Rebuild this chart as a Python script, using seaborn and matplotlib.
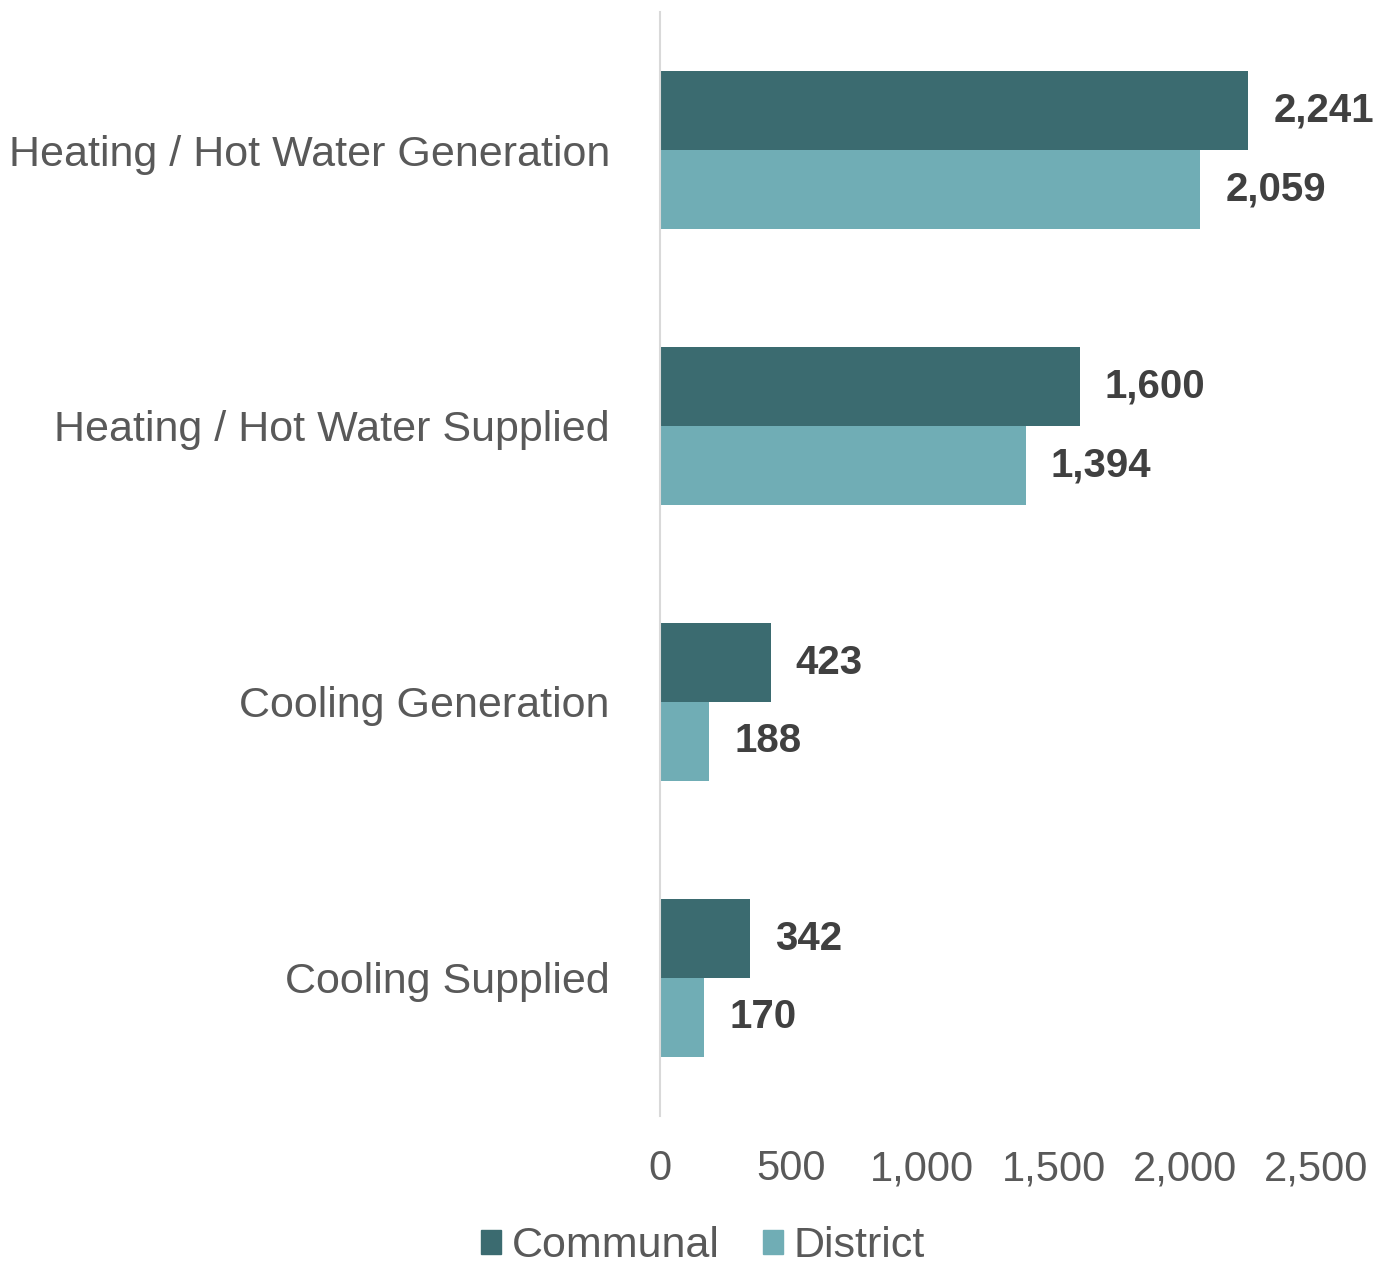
import pandas as pd
import matplotlib.pyplot as plt
import seaborn as sns
from matplotlib.patches import Patch

# datos
categorias = ['Heating / Hot Water Generation', 'Heating / Hot Water Supplied',
              'Cooling Generation', 'Cooling Supplied']
communal = [2241, 1600, 423, 342]
district = [2059, 1394, 188, 170]
series = ['Communal', 'District']
colores = ['#3b6b70', '#70adb5']

df = pd.DataFrame({
    'categoria': categorias * 2,
    'valor': communal + district,
    'tipo': [series[0]] * 4 + [series[1]] * 4,
})

sns.set_style('white')
plt.rcParams['font.family'] = ['Liberation Sans', 'DejaVu Sans']

fig = plt.figure(figsize=(13.92, 12.68), dpi=100)
ax = fig.add_axes([0.474, 0.12, 0.4715, 0.8705])

sns.barplot(data=df, y='categoria', x='valor', hue='tipo', palette=colores,
            width=0.57, ax=ax, legend=False, saturation=1, linewidth=0)

for cont in ax.containers:
    ax.bar_label(cont, labels=[f'{v:,.0f}' for v in cont.datavalues],
                 padding=18, fontsize=29, fontweight='bold', color='#404040')

ax.set_xlim(0, 2500)
ax.set_ylim(3.5, -0.5)
ax.set_xticks([0, 500, 1000, 1500, 2000, 2500])
ax.set_xticklabels(['0', '500', '1,000', '1,500', '2,000', '2,500'])
ax.set_xlabel('')
ax.set_ylabel('')
ax.tick_params(axis='x', labelsize=30, labelcolor='#595959', length=0, pad=24)
ax.tick_params(axis='y', labelsize=31, labelcolor='#595959', length=0, pad=36)

for s in ['top', 'right', 'bottom']:
    ax.spines[s].set_visible(False)
ax.spines['left'].set_color('#d9d9d9')
ax.spines['left'].set_linewidth(1.5)

handles = [Patch(color=c, label=l) for c, l in zip(colores, series)]
fig.legend(handles=handles, loc='lower center', bbox_to_anchor=(0.505, -0.029),
           ncol=2, frameon=False, fontsize=31, labelcolor='#595959',
           handlelength=0.47, handleheight=0.47, handletextpad=0.25, columnspacing=1.0)

fig.savefig('out.png', dpi=100)
